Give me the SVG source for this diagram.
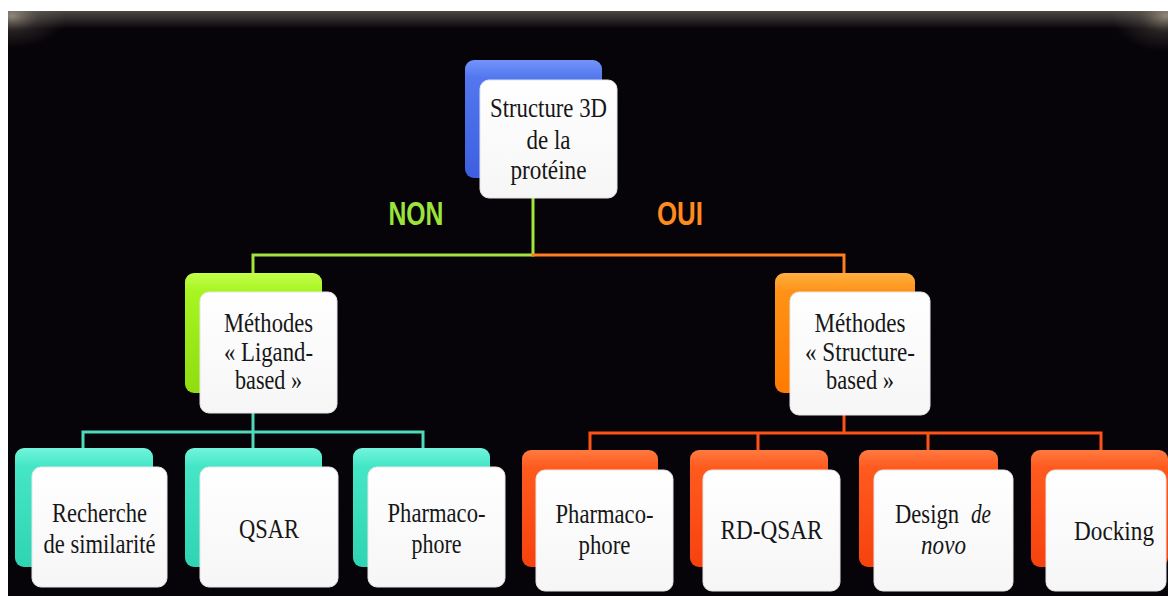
<svg xmlns="http://www.w3.org/2000/svg" width="1168" height="596" viewBox="0 0 1168 596">
<defs>
<style>
.t{font-family:"Liberation Serif","Times New Roman",serif;font-size:28px;fill:#161616;text-anchor:middle}
.s{text-anchor:start}
.lab{font-family:"Liberation Sans",Arial,sans-serif;font-weight:bold;font-size:34px;text-anchor:middle}
.front{fill:url(#gWhite);stroke:#e6e6e6;stroke-width:1}
.c{fill:none;stroke-width:3;stroke-linecap:square}
</style>
<linearGradient id="gWhite" x1="0" y1="0" x2="0" y2="1"><stop offset="0" stop-color="#ffffff"/><stop offset="1" stop-color="#f6f6f6"/></linearGradient>
<linearGradient id="gBlue" x1="0" y1="0" x2="0" y2="1"><stop offset="0" stop-color="#7394fb"/><stop offset="0.15" stop-color="#5277ee"/><stop offset="1" stop-color="#3d5fe0"/></linearGradient>
<linearGradient id="gGreen" x1="0" y1="0" x2="0" y2="1"><stop offset="0" stop-color="#c4ff4a"/><stop offset="0.15" stop-color="#a8f522"/><stop offset="1" stop-color="#8fdc10"/></linearGradient>
<linearGradient id="gOrange" x1="0" y1="0" x2="0" y2="1"><stop offset="0" stop-color="#ffb040"/><stop offset="0.15" stop-color="#ff9218"/><stop offset="1" stop-color="#ff7a00"/></linearGradient>
<linearGradient id="gTeal" x1="0" y1="0" x2="0" y2="1"><stop offset="0" stop-color="#72f5dc"/><stop offset="0.15" stop-color="#45e6c6"/><stop offset="1" stop-color="#2fd4b2"/></linearGradient>
<linearGradient id="gRed" x1="0" y1="0" x2="0" y2="1"><stop offset="0" stop-color="#ff7a40"/><stop offset="0.15" stop-color="#ff5a1e"/><stop offset="1" stop-color="#f7420e"/></linearGradient>
<linearGradient id="gTop" x1="0" y1="0" x2="0" y2="1"><stop offset="0" stop-color="#6a655e" stop-opacity="0.7"/><stop offset="1" stop-color="#6a655e" stop-opacity="0"/></linearGradient>
<radialGradient id="gCorner"><stop offset="0" stop-color="#c8bea8" stop-opacity="0.6"/><stop offset="0.5" stop-color="#7a7060" stop-opacity="0.25"/><stop offset="1" stop-color="#7a7060" stop-opacity="0"/></radialGradient>
<clipPath id="clipBg"><rect x="8" y="11" width="1160" height="585"/></clipPath>
</defs>
<rect width="1168" height="596" fill="#ffffff"/>
<g clip-path="url(#clipBg)">
<rect x="8" y="11" width="1160" height="585" fill="#060309"/>
<rect x="8" y="11" width="1160" height="18" fill="url(#gTop)"/>
<ellipse cx="12" cy="16" rx="55" ry="32" fill="url(#gCorner)"/>
<ellipse cx="1166" cy="16" rx="55" ry="36" fill="url(#gCorner)"/>
</g>

<g id="connectors">
<path class="c" stroke="#a2e63c" d="M533 198 V255 H253 V272"/>
<path class="c" stroke="#ff7e1e" d="M533 255 H844 V272"/>
<path class="c" stroke="#4fd9bb" d="M253 413 V432 M83 448 V432 H423 V448 M253 432 V448"/>
<path class="c" stroke="#ff5218" d="M844 415 V433 M590 450 V433 H1101 V450 M758 433 V450 M928 433 V450"/>
</g>

<g id="labels">
<text class="lab" x="416" y="225" fill="#9be43c" textLength="55" lengthAdjust="spacingAndGlyphs">NON</text>
<text class="lab" x="680" y="225" fill="#ff8a1e" textLength="46" lengthAdjust="spacingAndGlyphs">OUI</text>
</g>

<g id="node-structure3d">
<rect x="465" y="60" width="137" height="118" rx="9" fill="url(#gBlue)"/>
<rect class="front" x="480" y="80" width="137" height="118" rx="9"/>
<text class="t" x="548.5" y="117" textLength="117" lengthAdjust="spacingAndGlyphs">Structure 3D</text>
<text class="t" x="548.5" y="149" textLength="44" lengthAdjust="spacingAndGlyphs">de la</text>
<text class="t" x="548.5" y="179" textLength="76" lengthAdjust="spacingAndGlyphs">protéine</text>
</g>

<g id="node-ligand">
<rect x="185" y="273" width="137" height="120" rx="9" fill="url(#gGreen)"/>
<rect class="front" x="200" y="292" width="137" height="121" rx="9"/>
<text class="t" x="268.5" y="332" textLength="89" lengthAdjust="spacingAndGlyphs">Méthodes</text>
<text class="t" x="268.5" y="361" textLength="89" lengthAdjust="spacingAndGlyphs">« Ligand-</text>
<text class="t" x="268.5" y="389" textLength="67" lengthAdjust="spacingAndGlyphs">based »</text>
</g>

<g id="node-structure">
<rect x="775" y="273" width="140" height="120" rx="9" fill="url(#gOrange)"/>
<rect class="front" x="790" y="292" width="140" height="123" rx="9"/>
<text class="t" x="860" y="332" textLength="91" lengthAdjust="spacingAndGlyphs">Méthodes</text>
<text class="t" x="860" y="361" textLength="110" lengthAdjust="spacingAndGlyphs">« Structure-</text>
<text class="t" x="860" y="389" textLength="68" lengthAdjust="spacingAndGlyphs">based »</text>
</g>

<g id="node-similarite">
<rect x="15" y="448" width="138" height="119" rx="9" fill="url(#gTeal)"/>
<rect class="front" x="32" y="467" width="135" height="120" rx="9"/>
<text class="t" x="99.5" y="522" textLength="95" lengthAdjust="spacingAndGlyphs">Recherche</text>
<text class="t" x="99.5" y="553" textLength="112" lengthAdjust="spacingAndGlyphs">de similarité</text>
</g>

<g id="node-qsar">
<rect x="185" y="448" width="137" height="119" rx="9" fill="url(#gTeal)"/>
<rect class="front" x="200" y="467" width="138" height="120" rx="9"/>
<text class="t" x="269" y="538" textLength="60" lengthAdjust="spacingAndGlyphs">QSAR</text>
</g>

<g id="node-pharmaco-ligand">
<rect x="353" y="448" width="137" height="119" rx="9" fill="url(#gTeal)"/>
<rect class="front" x="368" y="467" width="137" height="120" rx="9"/>
<text class="t" x="436.5" y="522" textLength="98" lengthAdjust="spacingAndGlyphs">Pharmaco-</text>
<text class="t" x="436.5" y="553" textLength="50" lengthAdjust="spacingAndGlyphs">phore</text>
</g>

<g id="node-pharmaco-structure">
<rect x="522" y="450" width="136" height="117" rx="9" fill="url(#gRed)"/>
<rect class="front" x="536" y="470" width="137" height="121" rx="9"/>
<text class="t" x="604.5" y="523" textLength="98" lengthAdjust="spacingAndGlyphs">Pharmaco-</text>
<text class="t" x="604.5" y="554" textLength="52" lengthAdjust="spacingAndGlyphs">phore</text>
</g>

<g id="node-rdqsar">
<rect x="690" y="450" width="138" height="117" rx="9" fill="url(#gRed)"/>
<rect class="front" x="703" y="470" width="137" height="121" rx="9"/>
<text class="t" x="771.5" y="539" textLength="102" lengthAdjust="spacingAndGlyphs">RD-QSAR</text>
</g>

<g id="node-denovo">
<rect x="859" y="450" width="139" height="117" rx="9" fill="url(#gRed)"/>
<rect class="front" x="874" y="470" width="139" height="121" rx="9"/>
<text class="t s" x="895" y="523" textLength="64" lengthAdjust="spacingAndGlyphs">Design</text>
<text class="t s" x="971" y="523" font-style="italic" textLength="20" lengthAdjust="spacingAndGlyphs">de</text>
<text class="t" x="943.5" y="554" font-style="italic" textLength="45" lengthAdjust="spacingAndGlyphs">novo</text>
</g>

<g id="node-docking">
<rect x="1031" y="450" width="137" height="117" rx="9" fill="url(#gRed)"/>
<rect class="front" x="1046" y="470" width="120" height="121" rx="9"/>
<text class="t" x="1114" y="540" font-size="26" textLength="80" lengthAdjust="spacingAndGlyphs">Docking</text>
</g>
</svg>
